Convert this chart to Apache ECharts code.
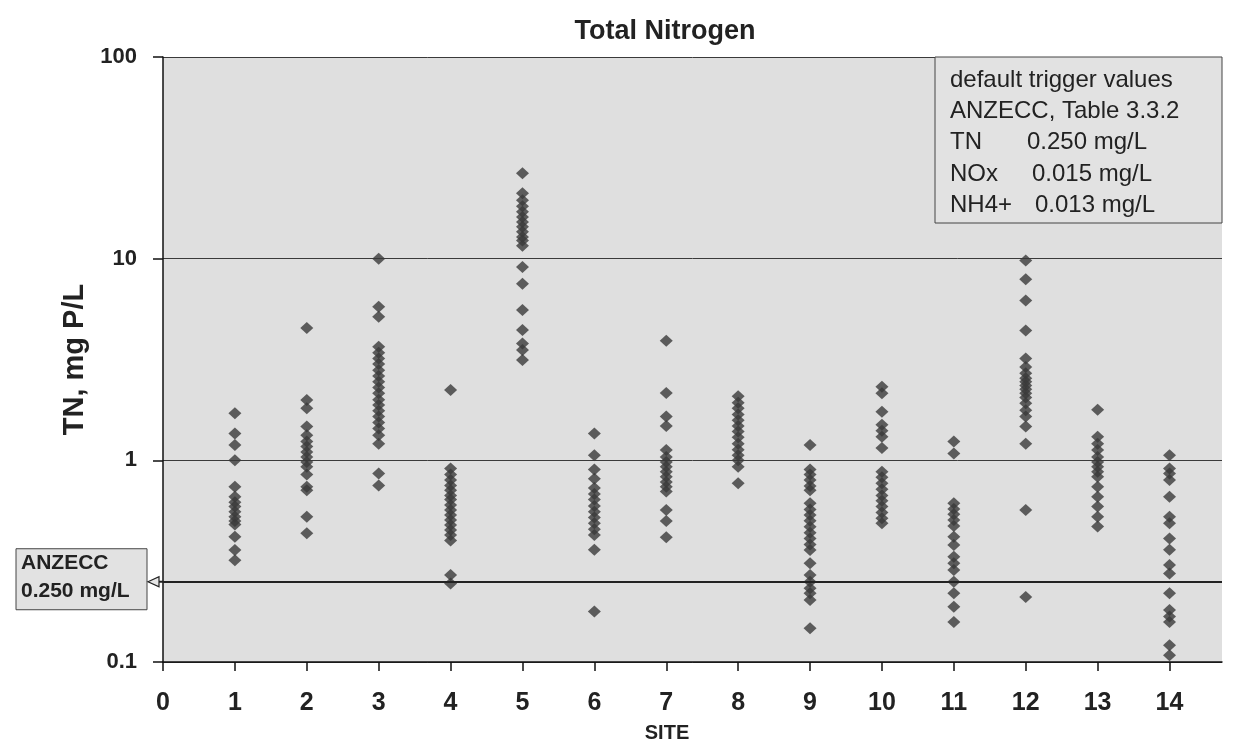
<!DOCTYPE html>
<html><head><meta charset="utf-8">
<script src="https://cdn.jsdelivr.net/npm/echarts@6/dist/echarts.min.js"></script>
<style>html,body{margin:0;padding:0;background:#fff}#c{width:1236px;height:745px}</style>
</head><body><div id="c"></div>
<script>
const FONT = '"Liberation Sans", Arial, Helvetica, sans-serif';
const titleText = 'Total Nitrogen';
const xName = 'SITE';
const yName = 'TN, mg P/L';
const xTicks = [0,1,2,3,4,5,6,7,8,9,10,11,12,13,14];
const yTicks = [0.1, 1, 10, 100];
const threshold = 0.25;
const anzeccLines = ['ANZECC', '0.250 mg/L'];
const legendHeader = ['default trigger values', 'ANZECC, Table 3.3.2'];
const legendParams = ['TN', 'NOx', 'NH4+'];
const legendValues = ['0.250 mg/L', '0.015 mg/L', '0.013 mg/L'];

const site1 = [1.71,1.36,1.19,1.00,0.74,0.66,0.62,0.59,0.556,0.525,0.50,0.48,0.418,0.359,0.32];
const site2 = [4.53,1.99,1.81,1.47,1.33,1.24,1.17,1.10,1.04,0.98,0.93,0.85,0.74,0.71,0.525,0.435];
const site3 = [10.0,5.78,5.15,3.66,3.42,3.2,3.0,2.8,2.62,2.45,2.30,2.15,2.0,1.88,1.76,1.65,1.54,1.44,1.33,1.21,0.86,0.75];
const site4 = [2.23,0.91,0.85,0.80,0.75,0.71,0.67,0.64,0.60,0.567,0.535,0.506,0.478,0.451,0.426,0.40,0.27,0.245];
const site5 = [26.5,21.1,19.5,18.2,17.1,16.1,15.2,14.4,13.6,12.8,12.3,11.6,9.1,7.5,5.56,4.43,3.80,3.52,3.14];
const site6 = [1.36,1.06,0.90,0.81,0.73,0.68,0.64,0.593,0.556,0.52,0.487,0.455,0.426,0.36,0.178];
const site7 = [3.92,2.16,1.65,1.48,1.125,1.04,0.98,0.93,0.878,0.83,0.78,0.74,0.70,0.567,0.50,0.415];
const site8 = [2.08,1.93,1.81,1.69,1.58,1.48,1.39,1.30,1.21,1.13,1.06,1.00,0.93,0.77];
const site9 = [1.19,0.90,0.85,0.80,0.746,0.71,0.612,0.571,0.535,0.502,0.469,0.438,0.41,0.383,0.359,0.309,0.27,0.25,0.232,0.219,0.203,0.147];
const site10 = [2.32,2.15,1.74,1.50,1.40,1.31,1.15,0.878,0.824,0.769,0.718,0.67,0.63,0.59,0.552,0.516,0.487];
const site11 = [1.24,1.08,0.612,0.574,0.54,0.506,0.472,0.418,0.38,0.333,0.309,0.286,0.25,0.219,0.188,0.158];
const site12 = [9.8,7.9,6.2,4.4,3.2,2.9,2.7,2.55,2.45,2.35,2.25,2.15,2.05,1.92,1.77,1.65,1.47,1.21,0.567,0.21];
const site13 = [1.78,1.31,1.21,1.125,1.04,0.98,0.93,0.878,0.83,0.74,0.66,0.59,0.525,0.47];
const site14 = [1.06,0.91,0.86,0.80,0.66,0.525,0.487,0.41,0.36,0.303,0.275,0.219,0.181,0.168,0.158,0.121,0.108];

const allSites = [site1,site2,site3,site4,site5,site6,site7,site8,site9,site10,site11,site12,site13,site14];
const points = [];
allSites.forEach((arr, i) => arr.forEach(v => points.push([i + 1, v])));

const chart = echarts.init(document.getElementById('c'), null, {renderer: 'canvas'});
const option = {
  backgroundColor: '#ffffff',
  animation: false,
  title: [
    {text: titleText, left: 660, top: 13, textAlign: 'center',
     textStyle: {fontFamily: FONT, fontSize: 27, fontWeight: 'bold', color: '#222'}},
    {text: xName, left: 662, top: 718, textAlign: 'center',
     textStyle: {fontFamily: FONT, fontSize: 20, fontWeight: 'bold', color: '#222'}}
  ],
  grid: {left: 163, right: 14, top: 57, bottom: 83, show: true,
         backgroundColor: '#dfdfdf', borderWidth: 0},
  xAxis: {
    type: 'value', min: 0, max: 14.73, interval: 1,
    axisLine: {show: true, onZero: false, lineStyle: {color: '#111', width: 1.5}},
    axisTick: {show: true, inside: false, length: 9, customValues: xTicks, lineStyle: {color: '#111', width: 1.5}},
    axisLabel: {customValues: xTicks, margin: 29, fontFamily: FONT, fontSize: 25, fontWeight: 'bold', color: '#222'},
    splitLine: {show: false}
  },
  yAxis: {
    type: 'log', logBase: 10, min: 0.1, max: 100,
    name: yName, nameLocation: 'middle', nameGap: 54,
    nameTextStyle: {fontFamily: FONT, fontSize: 29, fontWeight: 'bold', color: '#222'},
    axisLine: {show: true, onZero: false, lineStyle: {color: '#111', width: 1.5}},
    axisTick: {show: true, length: 10, lineStyle: {color: '#111', width: 1.5}},
    axisLabel: {margin: 26, fontFamily: FONT, fontSize: 22, fontWeight: 'bold', color: '#222',
      formatter: v => { const t = yTicks.find(y => Math.abs(y - v) / y < 1e-6); return t === undefined ? '' : String(t); }},
    splitLine: {show: true, lineStyle: {color: '#3a3a3a', width: 1}}
  },
  series: [{
    type: 'scatter', symbol: 'diamond', symbolSize: [13, 12],
    itemStyle: {color: '#393939'},
    data: points,
    markLine: {
      silent: true, symbol: ['none', 'none'], animation: false,
      label: {show: false},
      lineStyle: {color: '#222', width: 2, type: 'solid'},
      data: [{yAxis: threshold}]
    }
  }]
};
chart.setOption(option);

const pt = chart.convertToPixel({gridIndex: 0}, [0, threshold]);
const gx = pt[0], py = pt[1];
const legendTexts = [];
legendHeader.forEach((t, i) => legendTexts.push({type: 'text', x: 950, y: 80 + i * 31.3, z: 102,
  style: {text: t, fontFamily: FONT, fontSize: 24, fill: '#222', verticalAlign: 'middle'}}));
const valueX = [1027, 1032, 1035];
legendParams.forEach((t, i) => {
  legendTexts.push({type: 'text', x: 950, y: 80 + (i + 2) * 31.3, z: 102,
    style: {text: t, fontFamily: FONT, fontSize: 24, fill: '#222', verticalAlign: 'middle'}});
  legendTexts.push({type: 'text', x: valueX[i], y: 80 + (i + 2) * 31.3, z: 102,
    style: {text: legendValues[i], fontFamily: FONT, fontSize: 24, fill: '#222', verticalAlign: 'middle'}});
});
chart.setOption({
  graphic: [
    {type: 'line', shape: {x1: 150, y1: py, x2: gx, y2: py}, style: {stroke: '#222', lineWidth: 2}, z: 100},
    {type: 'polygon', shape: {points: [[148, py], [159, py - 5], [159, py + 5]]}, style: {fill: '#e6e6e6', stroke: '#222', lineWidth: 1.2}, z: 101},
    {type: 'rect', shape: {x: 16, y: py - 33, width: 131, height: 61}, style: {fill: '#e2e2e2', stroke: '#444', lineWidth: 1}, z: 100},
    {type: 'text', x: 21, y: py - 19, style: {text: anzeccLines[0], fontFamily: FONT, fontSize: 21, fontWeight: 'bold', fill: '#222', verticalAlign: 'middle'}, z: 102},
    {type: 'text', x: 21, y: py + 9, style: {text: anzeccLines[1], fontFamily: FONT, fontSize: 21, fontWeight: 'bold', fill: '#222', verticalAlign: 'middle'}, z: 102},
    {type: 'rect', shape: {x: 935, y: 57, width: 287, height: 166}, style: {fill: '#e2e2e2', stroke: '#444', lineWidth: 1}, z: 100},
    {type: 'group', z: 102, children: legendTexts}
  ]
});
</script></body></html>
